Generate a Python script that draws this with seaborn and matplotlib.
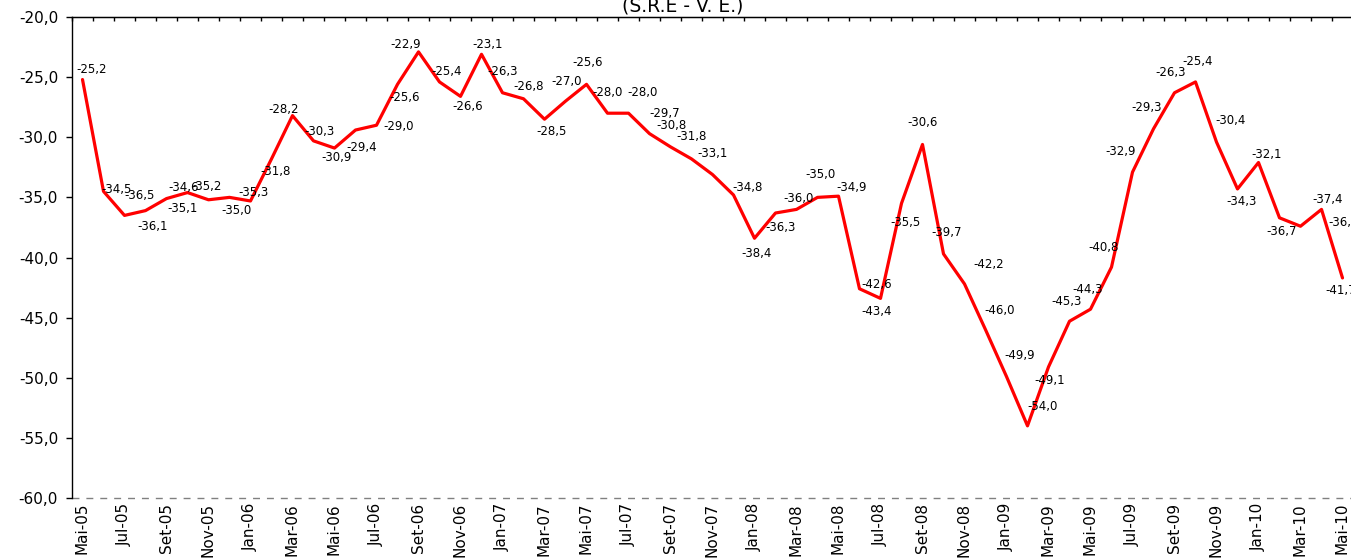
import numpy as np
import pandas as pd
import matplotlib
matplotlib.use("Agg")
import matplotlib.pyplot as plt
import seaborn as sns

# ---- data ----
months = ["Mai", "Jun", "Jul", "Ago", "Set", "Out", "Nov", "Dez",
          "Jan", "Fev", "Mar", "Abr"]
start_year = 5
values = [-25.2, -34.5, -36.5, -36.1, -35.1, -34.6, -35.2, -35.0,
          -35.3, -31.8, -28.2, -30.3, -30.9, -29.4, -29.0, -25.6, -22.9, -25.4, -26.6, -23.1,
          -26.3, -26.8, -28.5, -27.0, -25.6, -28.0, -28.0, -29.7, -30.8, -31.8, -33.1, -34.8,
          -38.4, -36.3, -36.0, -35.0, -34.9, -42.6, -43.4, -35.5, -30.6, -39.7, -42.2, -46.0,
          -49.9, -54.0, -49.1, -45.3, -44.3, -40.8, -32.9, -29.3, -26.3, -25.4, -30.4, -34.3,
          -32.1, -36.7, -37.4, -36.0, -41.7]
yticks = [-60, -55, -50, -45, -40, -35, -30, -25, -20]
title = "(S.R.E - V. E.)"

# label offsets (pixels, relative to each point) to mimic the original placement
label_dx = [9.5, 13, 15.5, 7.5, 16.5, -4, -1.5, 6.5, 3, 4.5, -8.5, 6, 2, 6.5, 22.5, 7.5,
            -12.5, 7.5, 7, 6.5, 0.5, 5.5, 7, 1, 1.5, 0, 14, 15, 1, 0, 0.5, 14.5,
            2, 5, 2, 2.5, 13.5, 17.5, -3.5, 4, 0.5, 3, 24, 14.5, 13.5, 15, 1.5,
            -2.5, -3, -7.5, -11.5, -7, -3.5, 2.5, 14, 4.5, 8.5, 2.5, 27, 22.5, -1.5]
label_dy = [10.5, 2, 20, -16, -9.5, 5.5, 13, -13.5, 8, -13, 6.5, 9, -9, -17, -1.3, -13,
            7, 10.5, -10.5, 10, 21, 12, -12, 20, 22, 21, 21, 20.5, 21, 22, 21.5, 7,
            -15, -14, 11, 22.5, 9, 4, -13.5, -19.5, 21.5, 21, 19, 19.5, 21.5, 19, -14,
            20, 20, 20, 20.5, 21, 20, 20.5, 22, -12.5, 8.5, -14, 26.5, -13.5, -12.5]

# month labels (Portuguese abbreviations as in source: Mai, Jul, Set, Nov, Jan, Mar)
tick_names = []
for i in range(len(values)):
    m = months[i % 12]
    yr = start_year + (i + 4) // 12
    tick_names.append(f"{m}-{yr:02d}")

df = pd.DataFrame({"idx": np.arange(len(values)), "val": values})

sns.set_style("white")
plt.rcParams["font.family"] = ["DejaVu Sans"]

fig = plt.figure(figsize=(13.51, 5.6), dpi=100)
ax = fig.add_axes([72 / 1351, 1 - 498 / 560, 1281 / 1351, 481 / 560])

sns.lineplot(data=df, x="idx", y="val", ax=ax, color="#FF0000", linewidth=2.3,
             legend=False)

ax.set_xlim(-0.5, len(values) - 0.5)
ax.set_ylim(-60, -20)
ax.set_xlabel("")
ax.set_ylabel("")

ax.set_yticks(yticks)
ax.set_yticklabels([f"{t:.1f}".replace(".", ",") for t in yticks], fontsize=11)
ax.tick_params(axis="y", direction="out", length=4, width=1, color="black",
               pad=6, left=True, labelcolor="black")

pos = list(range(0, len(values), 2))
ax.set_xticks(pos)
ax.set_xticklabels([tick_names[p] for p in pos], rotation=90, fontsize=11,
                   va="top", ha="center")
ax.tick_params(axis="x", length=0, pad=3.6, labelcolor="black")

for s in ["right", "bottom"]:
    ax.spines[s].set_visible(False)
ax.spines["left"].set_color("black")
ax.spines["left"].set_linewidth(1.0)
ax.spines["top"].set_color("black")
ax.spines["top"].set_linewidth(1.0)
ax.axhline(-60, color="#808080", linestyle=(0, (5, 5)), linewidth=1.0, clip_on=False)

sec = ax.secondary_xaxis("top")
sec.set_xticks(np.arange(-0.5, len(values), 1.0))
sec.tick_params(axis="x", direction="in", length=3, width=1, color="black",
                labeltop=False)
sec.spines["top"].set_color("black")

for i, v in enumerate(values):
    ax.annotate(f"{v:.1f}".replace(".", ","), (i, v),
                xytext=(label_dx[i], label_dy[i]), textcoords="offset pixels",
                ha="center", va="center", fontsize=8.5, color="black",
                annotation_clip=False)

fig.text(683 / 1351, 1 - 11.5 / 560, title, ha="center", va="baseline",
         fontsize=13.5, color="black")

fig.savefig("out.png", dpi=100)
